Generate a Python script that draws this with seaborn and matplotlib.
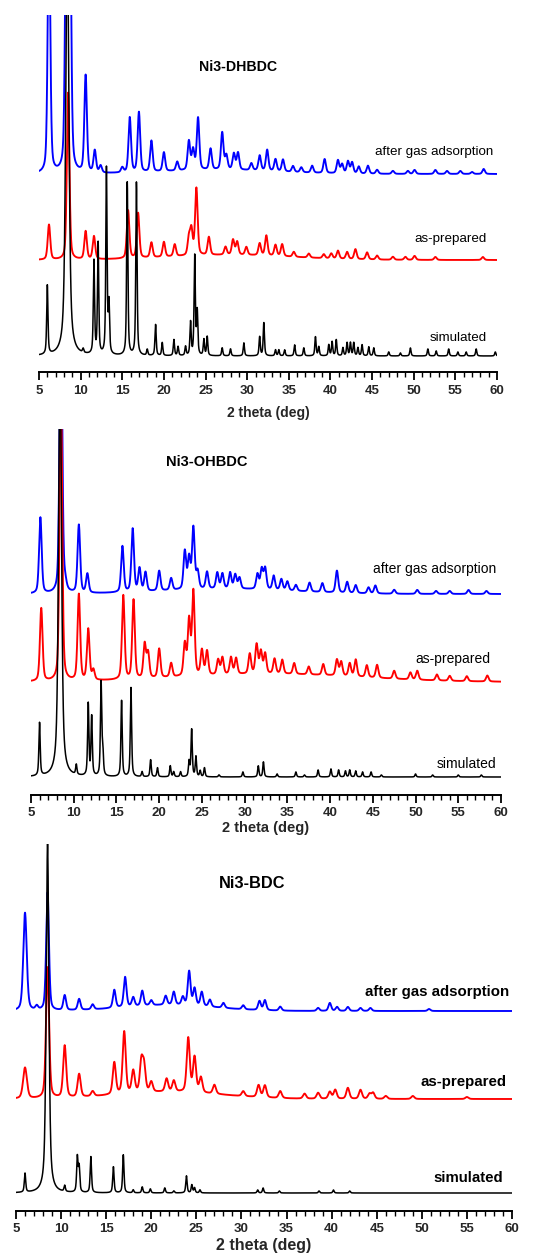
import numpy as np
import pandas as pd
import matplotlib
matplotlib.use("Agg")
import matplotlib.pyplot as plt
import seaborn as sns
from matplotlib.ticker import MultipleLocator

sns.set_theme(style="white")
plt.rcParams['font.family'] = ['Liberation Sans', 'DejaVu Sans']

# ---------------- data (peak positions in 2theta, peak heights in px-like units) -------------
x_ticks = [5, 10, 15, 20, 25, 30, 35, 40, 45, 50, 55, 60]
trace_labels = ["after gas adsorption", "as-prepared", "simulated"]
panel_titles = ["Ni3-DHBDC", "Ni3-OHBDC", "Ni3-BDC"]

# Panel 1: Ni3-DHBDC
dh_blue_base = 198
dh_blue_pos = [6.2, 8.3, 8.7, 10.6, 11.7, 12.4, 15.0, 15.9, 17.0, 18.5, 20.0, 21.6, 23.0, 23.5, 24.1, 25.6,
               27.0, 27.5, 28.4, 28.9, 30.5, 31.5, 32.4, 33.4, 34.3, 35.5, 36.5, 37.8, 39.3, 40.9, 41.4,
               42.1, 42.6, 43.4, 44.5, 45.6, 47.5, 49.3, 50.1, 52.6, 54.0, 55.6, 57.0, 58.4]
dh_blue_h = [260, 300, 300, 97, 22, 7, 5, 55, 60, 31, 19, 9, 29, 20, 52, 21,
             37, 14, 16, 17, 7, 15, 21, 12, 12, 6, 5, 7, 14, 13, 9,
             12, 11, 7, 8, 4, 3, 3, 4, 4, 3, 3, 2, 5]
dh_blue_hump = (27, 4, 16)

dh_red_base = 112
dh_red_pos = [6.2, 8.5, 10.6, 11.6, 15.7, 16.9, 18.5, 20.0, 21.3, 23.0, 23.3, 23.9, 25.4, 27.4, 28.3, 28.8,
              29.9, 31.5, 32.3, 33.4, 34.2, 35.6, 37.4, 39.2, 40.1, 40.9, 42.0, 43.0, 44.4, 45.6, 47.5,
              49.0, 50.1, 52.6, 58.3]
dh_red_h = [35, 167, 28, 23, 48, 45, 15, 15, 12, 17, 25, 67, 18, 8, 15, 13,
            8, 12, 20, 11, 12, 5, 4, 4, 5, 8, 7, 10, 7, 4, 3,
            3, 4, 3, 3]
dh_red_hump = (28, 5, 18)

dh_black_base = 16
dh_black_pos = [6.0, 8.4, 10.3, 11.6, 12.1, 13.1, 13.4, 15.6, 16.7, 18.0, 19.0, 19.8, 21.2, 21.7, 22.6, 23.2,
                23.7, 24.0, 24.8, 25.2, 27.0, 28.0, 29.6, 31.5, 32.0, 33.4, 33.8, 34.5, 35.7, 36.8, 38.2,
                38.6, 39.8, 40.2, 40.7, 41.5, 42.0, 42.4, 42.8, 43.3, 43.8, 44.6, 45.2, 47.0, 48.4, 49.6,
                51.7, 52.7, 54.2, 55.3, 56.3, 57.5, 59.8]
dh_black_h = [69, 420, 4, 93, 111, 186, 49, 173, 173, 6, 31, 13, 16, 9, 9, 33,
              99, 43, 16, 19, 8, 7, 13, 19, 33, 6, 6, 6, 11, 8, 19,
              9, 11, 14, 16, 8, 13, 13, 13, 8, 11, 9, 8, 4, 3, 8,
              7, 5, 7, 4, 4, 7, 4]

# Panel 2: Ni3-OHBDC
oh_blue_base = 201
oh_blue_pos = [6.1, 8.5, 9.0, 10.6, 11.6, 15.7, 16.9, 17.7, 18.4, 20.0, 21.4, 23.0, 23.5, 24.0, 24.5, 25.6,
               26.8, 27.4, 28.3, 28.9, 29.4, 31.5, 32.0, 32.4, 33.4, 34.3, 35.0, 36.0, 37.6, 39.1, 40.8,
               42.0, 43.0, 44.5, 45.3, 47.5, 50.2, 52.4, 54.0, 56.2, 58.3]
oh_blue_h = [76, 300, 7, 68, 19, 46, 63, 23, 19, 20, 12, 38, 31, 61, 17, 17,
             16, 15, 16, 14, 11, 15, 20, 21, 14, 11, 9, 6, 9, 9, 22,
             11, 8, 6, 8, 4, 4, 3, 3, 4, 3]
oh_blue_hump = (28, 5, 18)

oh_red_base = 113
oh_red_pos = [6.2, 8.5, 10.6, 11.7, 12.3, 15.8, 17.0, 18.3, 18.7, 20.0, 21.4, 23.0, 23.5, 24.0, 25.0, 25.6,
              26.9, 27.4, 28.4, 29.0, 30.6, 31.4, 31.9, 32.4, 33.5, 34.4, 35.8, 37.5, 39.2, 40.8, 41.3,
              42.3, 43.0, 44.3, 45.5, 47.5, 49.4, 50.2, 52.5, 54.0, 56.0, 58.4]
oh_red_h = [73, 300, 86, 51, 10, 84, 79, 34, 25, 29, 14, 32, 55, 84, 25, 24,
            15, 17, 17, 16, 20, 29, 22, 20, 15, 14, 11, 8, 11, 16, 14,
            13, 17, 12, 13, 8, 7, 9, 6, 5, 5, 6]
oh_red_hump = (33, 8, 25)

oh_black_base = 18
oh_black_pos = [6.0, 8.4, 10.3, 11.7, 12.1, 13.2, 13.4, 15.6, 16.7, 18.0, 19.0, 19.8, 21.3, 21.7, 22.5, 23.5,
                23.8, 24.3, 24.8, 25.3, 27.0, 29.8, 31.6, 32.2, 33.8, 36.0, 37.0, 38.6, 40.1, 41.0, 41.8,
                42.3, 43.0, 43.8, 44.8, 46.0, 50.0, 52.0, 55.0, 57.7]
oh_black_h = [53, 420, 10, 72, 59, 93, 24, 76, 89, 5, 17, 9, 11, 5, 5, 15,
              47, 20, 6, 9, 2, 5, 11, 15, 3, 5, 2, 7, 8, 7, 6,
              7, 6, 5, 5, 2, 3, 2, 2, 2]

# Panel 3: Ni3-BDC
bd_blue_base = 200
bd_blue_pos = [6.0, 7.3, 8.5, 10.4, 12.0, 13.5, 15.9, 17.1, 18.0, 19.0, 20.0, 21.6, 22.5, 23.5, 24.2, 24.8,
               25.6, 26.5, 28.0, 30.2, 32.0, 32.6, 34.3, 38.5, 39.8, 40.6, 41.8, 43.2, 44.3, 50.8]
bd_blue_h = [98, 4, 118, 15, 11, 5, 18, 30, 9, 15, 5, 9, 13, 8, 34, 17,
             14, 7, 5, 4, 9, 10, 4, 3, 8, 4, 4, 3, 3, 2]
bd_blue_hump = (22, 6, 12)

bd_red_base = 112
bd_red_pos = [6.0, 8.5, 10.4, 12.0, 13.5, 15.9, 17.0, 18.0, 18.9, 19.2, 20.0, 21.7, 22.5, 24.1, 24.8, 25.5,
              27.0, 30.2, 31.9, 32.6, 34.3, 37.0, 38.5, 39.8, 40.4, 41.8, 43.2, 44.2, 44.6, 46.0, 49.0, 55.0]
bd_red_h = [31, 131, 52, 23, 5, 32, 62, 22, 30, 25, 10, 13, 11, 54, 35, 15,
            9, 5, 12, 12, 7, 5, 6, 7, 9, 11, 9, 5, 6, 3, 3, 2]
bd_red_hump = (22, 7, 14)

bd_black_base = 18
bd_black_pos = [6.0, 8.5, 10.4, 11.8, 12.0, 13.3, 15.8, 16.9, 18.0, 19.0, 19.9, 21.5, 22.5, 23.9, 24.5, 24.8,
                25.4, 31.8, 32.4, 34.2, 38.6, 40.2, 42.0]
bd_black_h = [19, 349, 6, 35, 25, 36, 26, 38, 3, 6, 4, 5, 2, 17, 8, 5,
              3, 3, 5, 2, 2, 3, 2]

# ---------------- helpers ----------------
xg = np.linspace(5, 60, 2751)


def profile(pos, h, fwhm, base, eta, hump=None, broad=None):
    y = np.full_like(xg, float(base))
    for p, a in zip(pos, h):
        w = fwhm
        if broad is not None and abs(p - broad[0]) < 0.15:
            w = broad[1]
        g = w / 2.0
        lor = 1.0 / (1.0 + ((xg - p) / g) ** 2)
        gau = np.exp(-np.log(2) * ((xg - p) / g) ** 2)
        y += a * (eta * lor + (1 - eta) * gau)
    if hump is not None:
        c, a, s = hump
        y += a * np.exp(-0.5 * ((xg - c) / (s / 2.355)) ** 2)
    return y


panels = [
    dict(rect_px=(39, 497, 15, 372), title=panel_titles[0], title_xy=(28.9, 305), tfs=10.2, xfs=10,
         traces=[(dh_blue_pos, dh_blue_h, 0.36, dh_blue_base, 0.4, dh_blue_hump, None, "#0000ff"),
                 (dh_red_pos, dh_red_h, 0.36, dh_red_base, 0.4, dh_red_hump, None, "#ff0000"),
                 (dh_black_pos, dh_black_h, 0.18, dh_black_base, 0.6, None, (8.4, 0.45), "#000000")],
         label_xy=[(59.6, 220), (58.8, 133), (58.8, 34)], fs=9.6, weight="normal", labelpad=7),
    dict(rect_px=(31, 501, 429, 795), title=panel_titles[1], title_xy=(25.6, 333), tfs=10.5, xfs=10.5,
         traces=[(oh_blue_pos, oh_blue_h, 0.36, oh_blue_base, 0.4, oh_blue_hump, None, "#0000ff"),
                 (oh_red_pos, oh_red_h, 0.36, oh_red_base, 0.4, oh_red_hump, None, "#ff0000"),
                 (oh_black_pos, oh_black_h, 0.18, oh_black_base, 0.6, None, (8.4, 0.4), "#000000")],
         label_xy=[(59.4, 226), (58.8, 136), (59.4, 31)], fs=10.0, weight="normal", labelpad=1),
    dict(rect_px=(16, 512, 844, 1211), title=panel_titles[2], title_xy=(31.2, 327), tfs=11.8, xfs=11.5,
         traces=[(bd_blue_pos, bd_blue_h, 0.36, bd_blue_base, 0.4, bd_blue_hump, (6.0, 0.45), "#0000ff"),
                 (bd_red_pos, bd_red_h, 0.4, bd_red_base, 0.4, bd_red_hump, (6.0, 0.5), "#ff0000"),
                 (bd_black_pos, bd_black_h, 0.18, bd_black_base, 0.6, None, (8.5, 0.35), "#000000")],
         label_xy=[(59.7, 219), (59.4, 129), (59.0, 33)], fs=10.8, weight="bold", labelpad=2),
]

W, H = 546, 1256
fig = plt.figure(figsize=(W / 100, H / 100), dpi=100)
fig.patch.set_facecolor("white")

for P in panels:
    l, r, t, b = P["rect_px"]
    ax = fig.add_axes([l / W, (H - b) / H, (r - l) / W, (b - t) / H])
    ax.set_facecolor("white")
    for (pos, h, fw, base, eta, hump, broad, col) in P["traces"]:
        y = profile(pos, h, fw, base, eta, hump, broad)
        df = pd.DataFrame({"theta": xg, "I": y})
        sns.lineplot(data=df, x="theta", y="I", ax=ax, color=col,
                     linewidth=1.35 if col != "#000000" else 1.1,
                     estimator=None, sort=False)
    ax.set_xlim(5, 60)
    ax.set_ylim(0, b - t)
    for s in ["left", "right", "top"]:
        ax.spines[s].set_visible(False)
    ax.spines["bottom"].set_linewidth(1.4)
    ax.spines["bottom"].set_color("black")
    ax.set_yticks([])
    ax.set_ylabel("")
    ax.set_xticks(x_ticks)
    ax.set_xticklabels([str(v) for v in x_ticks], fontsize=9.5, fontweight="bold")
    ax.xaxis.set_minor_locator(MultipleLocator(1))
    ax.tick_params(axis="x", which="major", direction="out", length=6, width=1.3,
                   color="black", pad=3, bottom=True)
    ax.tick_params(axis="x", which="minor", direction="out", length=3.5, width=1.0,
                   color="black", bottom=True)
    ax.set_xlabel("2 theta (deg)", fontsize=P["xfs"], fontweight="bold", labelpad=P["labelpad"])
    ax.grid(False)
    ax.text(P["title_xy"][0], P["title_xy"][1], P["title"], ha="center", va="center",
            fontsize=P["tfs"], fontweight="bold", color="black")
    for (lx, ly), txt in zip(P["label_xy"], trace_labels):
        ax.text(lx, ly, txt, ha="right", va="center", fontsize=P["fs"],
                fontweight=P["weight"], color="black")

fig.savefig("out.png", dpi=100, facecolor="white")
